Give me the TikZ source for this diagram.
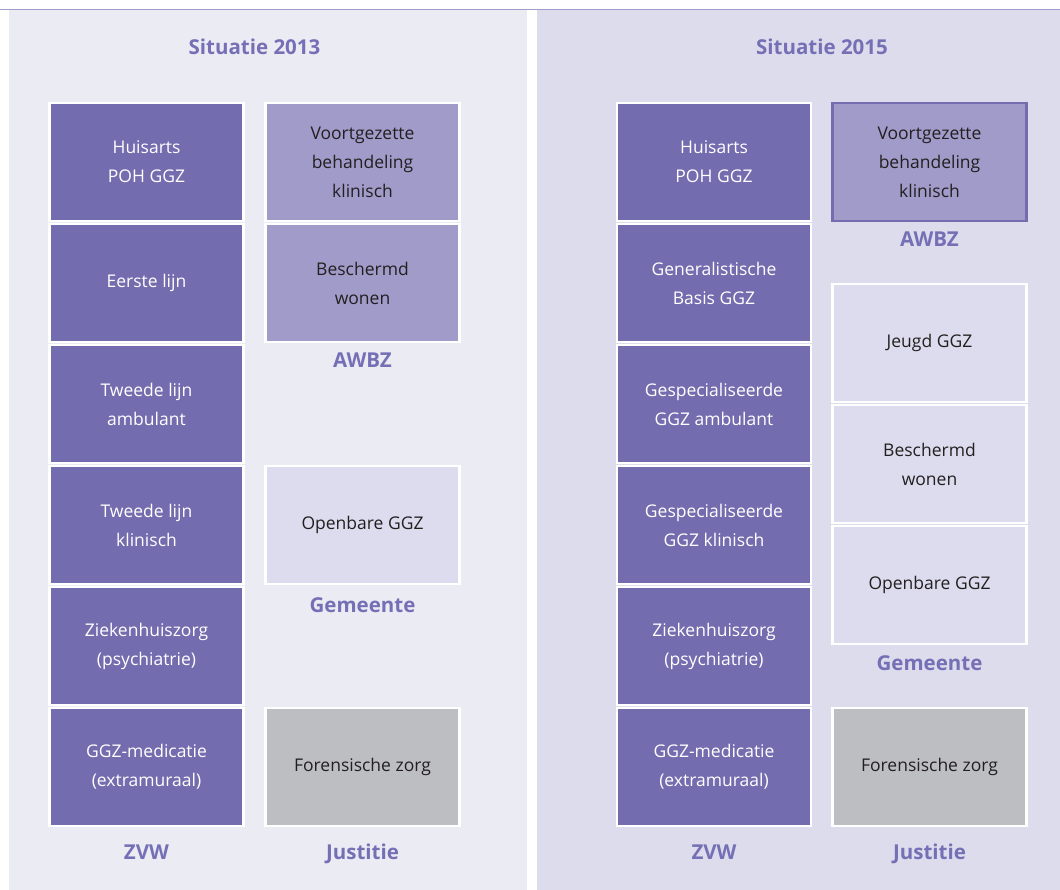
\documentclass[tikz,border=0pt]{standalone}
\usepackage{fontspec}
\setmainfont{Open Sans}
\usepackage{tikz}
\usetikzlibrary{positioning}

\definecolor{zvwpurple}{HTML}{736CAE}
\definecolor{awbzpurple}{HTML}{A19BC9}
\definecolor{gemlilac}{HTML}{DDDCEE}
\definecolor{justgray}{HTML}{BDBEC1}
\definecolor{labelpurple}{HTML}{7570B5}
\definecolor{panelleft}{HTML}{EBEBF4}
\definecolor{panelright}{HTML}{DCDCEC}
\definecolor{textdark}{HTML}{231F20}

\begin{document}
\begin{tikzpicture}[
        x=1pt, y=-1pt,
        box/.style={rectangle, draw=white, line width=2.6pt, minimum width=194pt,
            minimum height=118pt, inner sep=0pt, align=center,
            font=\fontsize{17.5pt}{29pt}\selectfont},
        zvwbox/.style={box, fill=zvwpurple, text=white},
        awbzbox/.style={box, fill=awbzpurple, text=textdark},
        gembox/.style={box, fill=gemlilac, text=textdark},
        justbox/.style={box, fill=justgray, text=textdark},
        fund/.style={anchor=base, text=labelpurple, font=\fontsize{20.5pt}{25pt}\selectfont\bfseries},
        every node/.style={inner sep=0pt}
    ]
        \useasboundingbox (0,0) rectangle (1060,890);

        % panels
        \fill[panelleft] (9,10.5) rectangle (527,890);
        \fill[panelright] (537,10.5) rectangle (1060,890);
        \draw[awbzpurple, line width=1.3pt] (0,9.8) -- (1060,9.8);

        % situatie 2013
        \node[fund] (t13) at (254.5,55) {Situatie 2013};

        \node[zvwbox] (huis13) at (146.5,162) {Huisarts\\POH GGZ};
        \node[zvwbox] (eerste13) at (146.5,283) {Eerste lijn};
        \node[zvwbox] (amb13) at (146.5,404) {Tweede lijn\\ambulant};
        \node[zvwbox] (klin13) at (146.5,525) {Tweede lijn\\klinisch};
        \node[zvwbox] (zhz13) at (146.5,646) {Ziekenhuiszorg\\(psychiatrie)};
        \node[zvwbox] (med13) at (146.5,767) {GGZ-medicatie\\(extramuraal)};

        \node[awbzbox] (voort13) at (362.5,162) {Voortgezette\\behandeling\\klinisch};
        \node[awbzbox] (besch13) at (362.5,283) {Beschermd\\wonen};
        \node[gembox] (openb13) at (362.5,525) {Openbare GGZ};
        \node[justbox] (foren13) at (362.5,767) {Forensische zorg};

        \node[fund] (awbz13) at (362.5,368) {AWBZ};
        \node[fund] (gem13) at (362.5,612) {Gemeente};
        \node[fund] (zvw13) at (146.5,859) {ZVW};
        \node[fund] (just13) at (362.5,859) {Justitie};

        % situatie 2015
        \node[fund] (t15) at (822,55) {Situatie 2015};

        \node[zvwbox] (huis15) at (714,162) {Huisarts\\POH GGZ};
        \node[zvwbox] (gb15) at (714,283) {Generalistische\\Basis GGZ};
        \node[zvwbox] (amb15) at (714,404) {Gespecialiseerde\\GGZ ambulant};
        \node[zvwbox] (klin15) at (714,525) {Gespecialiseerde\\GGZ klinisch};
        \node[zvwbox] (zhz15) at (714,646) {Ziekenhuiszorg\\(psychiatrie)};
        \node[zvwbox] (med15) at (714,767) {GGZ-medicatie\\(extramuraal)};

        \node[awbzbox, draw=zvwpurple] (voort15) at (929.5,162) {Voortgezette\\behandeling\\klinisch};
        \node[gembox] (jeugd15) at (929.5,343) {Jeugd GGZ};
        \node[gembox] (besch15) at (929.5,464) {Beschermd\\wonen};
        \node[gembox] (openb15) at (929.5,585) {Openbare GGZ};
        \node[justbox] (foren15) at (929.5,767) {Forensische zorg};

        \node[fund] (awbz15) at (929.5,247) {AWBZ};
        \node[fund] (gem15) at (929.5,670) {Gemeente};
        \node[fund] (zvw15) at (714,859) {ZVW};
        \node[fund] (just15) at (929.5,859) {Justitie};
    \end{tikzpicture}
\end{document}
